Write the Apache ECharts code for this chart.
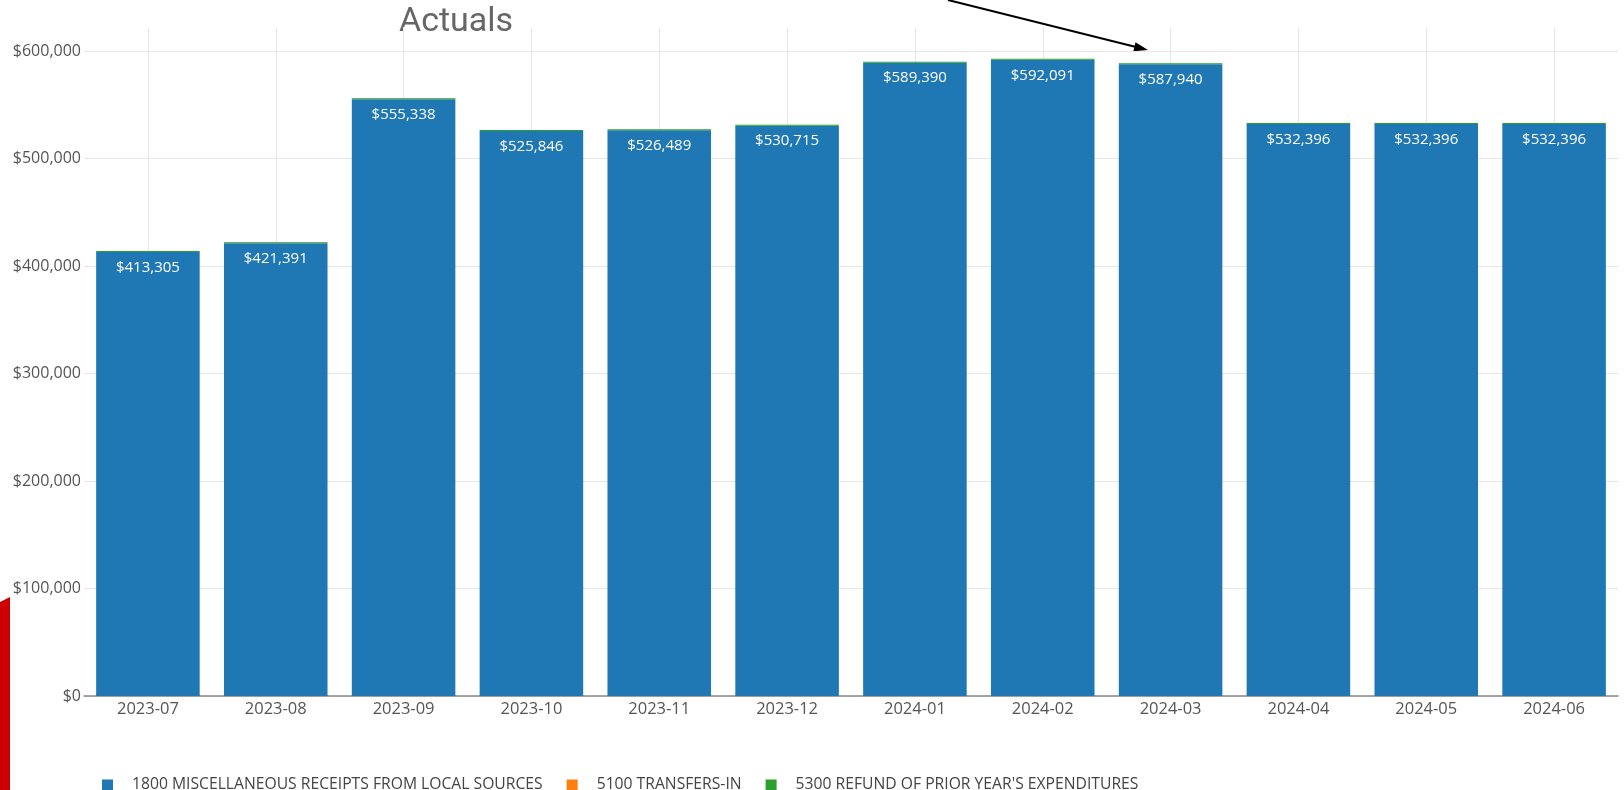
<!DOCTYPE html>
<html>
<head>
<meta charset="utf-8">
<script src="https://cdn.jsdelivr.net/npm/echarts@6/dist/echarts.min.js"></script>
<style>
  html, body { margin: 0; padding: 0; background: #fff; }
  #chart { width: 1624px; height: 790px; }
</style>
</head>
<body>
<div id="chart"></div>
<script>
// ---- data ----
const categories = ['2023-07', '2023-08', '2023-09', '2023-10', '2023-11', '2023-12',
                    '2024-01', '2024-02', '2024-03', '2024-04', '2024-05', '2024-06'];
const miscReceipts = [413305, 421391, 555338, 525846, 526489, 530715,
                      589390, 592091, 587940, 532396, 532396, 532396];
const transfersIn = [0, 0, 0, 0, 0, 0, 0, 0, 0, 0, 0, 0];
const refunds = [900, 900, 900, 900, 900, 900, 900, 900, 900, 900, 900, 900];
const seriesNames = ['1800 MISCELLANEOUS RECEIPTS FROM LOCAL SOURCES', '5100 TRANSFERS-IN', "5300 REFUND OF PRIOR YEAR'S EXPENDITURES"];
const titleText = 'Actuals';

const money = v => '$' + Math.round(v).toLocaleString('en-US');

const chart = echarts.init(document.getElementById('chart'), null, { renderer: 'canvas' });

const barCommon = { type: 'bar', stack: 'total', barCategoryGap: '19%' };

chart.setOption({
  animation: false,
  color: ['#1f77b4', '#ff7f0e', '#2ca02c'],
  grid: { left: 84, right: 6, top: 27, bottom: 94, containLabel: false },
  legend: {
    left: 97, top: 772,
    itemWidth: 11, itemHeight: 11, itemGap: 24,
    icon: 'rect',
    textStyle: { fontFamily: 'Open Sans', fontSize: 15.7, color: '#444', padding: [0, 0, 0, 14] },
    data: seriesNames
  },
  xAxis: {
    type: 'category',
    data: categories,
    axisLine: { lineStyle: { color: '#888', width: 1.5 } },
    axisTick: { show: false },
    axisLabel: { color: '#555', fontFamily: 'Open Sans', fontSize: 16.5, margin: 5 },
    splitLine: { show: true, alignWithLabel: true, lineStyle: { color: '#e6e6e6', width: 1 } }
  },
  yAxis: {
    type: 'value',
    min: 0, max: 622600, interval: 100000,
    axisLine: { show: false },
    axisTick: { show: false },
    axisLabel: { color: '#555', fontFamily: 'Open Sans', fontSize: 16, margin: 3,
                 showMaxLabel: false, formatter: v => money(v) },
    splitLine: { show: true, showMaxLine: false, lineStyle: { color: '#e6e6e6', width: 1 } }
  },
  series: [
    Object.assign({}, barCommon, {
      name: seriesNames[0], data: miscReceipts,
      label: { show: true, position: 'insideTop', distance: 8, color: '#fff',
               fontFamily: 'Open Sans', fontSize: 15, fontWeight: 500, formatter: p => money(p.value) }
    }),
    Object.assign({}, barCommon, { name: seriesNames[1], data: transfersIn }),
    Object.assign({}, barCommon, { name: seriesNames[2], data: refunds })
  ],
  graphic: [
    { type: 'text', left: 399, top: 5,
      style: { text: titleText, font: '34px Roboto', fill: '#666' } },
    { type: 'line', shape: { x1: 948, y1: 0, x2: 1138, y2: 47.5 },
      style: { stroke: '#000', lineWidth: 2 } },
    { type: 'polygon', shape: { points: [[1148, 50], [1133.3, 51.2], [1135.5, 42.2]] },
      style: { fill: '#000' } },
    { type: 'polygon', shape: { points: [[0, 602], [10, 597], [10, 790], [0, 790]] },
      style: { fill: '#cc0000' } }
  ]
});
</script>
</body>
</html>
